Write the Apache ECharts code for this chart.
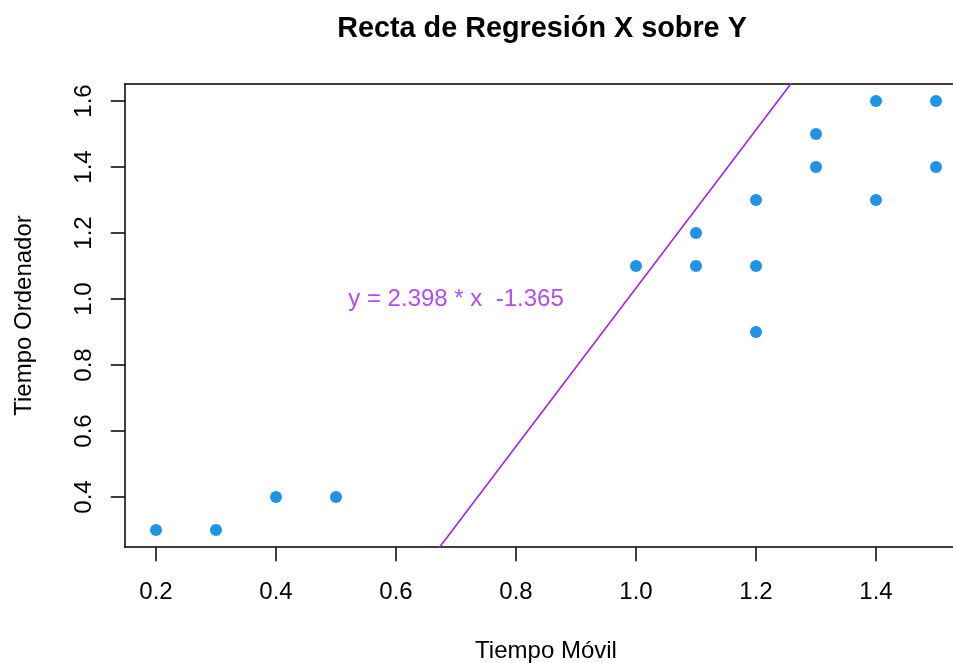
<!DOCTYPE html>
<html>
<head>
<meta charset="utf-8">
<title>Recta de Regresión X sobre Y</title>
<script src="https://cdn.jsdelivr.net/npm/echarts@6/dist/echarts.min.js"></script>
<style>
  html, body { margin: 0; padding: 0; background: #fff; }
  #chart { width: 953px; height: 663px; }
</style>
</head>
<body>
<div id="chart"></div>
<script>
// Observed pairs: Tiempo Móvil (x) vs Tiempo Ordenador (y)
const tiempoMovil     = [0.2, 0.3, 0.4, 0.5, 1.0, 1.1, 1.1, 1.2, 1.2, 1.2, 1.3, 1.3, 1.4, 1.4, 1.5, 1.5];
const tiempoOrdenador = [0.3, 0.3, 0.4, 0.4, 1.1, 1.2, 1.1, 1.3, 1.1, 0.9, 1.5, 1.4, 1.6, 1.3, 1.6, 1.4];

// Fitted line coefficients
const pendiente = 2.398;
const intercepto = -1.365;

// Tick positions
const xTicks = [0.2, 0.4, 0.6, 0.8, 1.0, 1.2, 1.4];
const yTicks = [0.4, 0.6, 0.8, 1.0, 1.2, 1.4, 1.6];

// Axis limits padded by 4% of the data range on each side
function paddedRange(arr) {
  const lo = Math.min(...arr), hi = Math.max(...arr);
  const pad = (hi - lo) * 0.04;
  return [lo - pad, hi + pad];
}
const [xMin, xMax] = paddedRange(tiempoMovil);
const [yMin, yMax] = paddedRange(tiempoOrdenador);

const puntos = tiempoMovil.map((x, i) => [x, tiempoOrdenador[i]]);
const recta = [xMin, xMax].map(x => [x, pendiente * x + intercepto]);
const etiqueta = 'y = ' + pendiente.toFixed(3) + ' * x  ' + intercepto.toFixed(3);

const FONT = '"Liberation Sans", Arial, sans-serif';
const PURPLE = '#a020f0';
const frameLine = { show: true, lineStyle: { color: '#000', width: 1.5 } };

const chart = echarts.init(document.getElementById('chart'), null, { renderer: 'canvas' });
chart.setOption({
  animation: false,
  backgroundColor: '#ffffff',
  title: {
    text: 'Recta de Regresión X sobre Y',
    left: 537,
    top: 10,
    textAlign: 'center',
    textStyle: { fontFamily: FONT, fontSize: 28.8, fontWeight: 'bold', color: '#000' }
  },
  grid: {
    left: 124.8,
    top: 83.8,
    width: 842.4,
    height: 463.4,
    containLabel: false,
    outerBoundsMode: 'none',
    show: false
  },
  xAxis: [
    {
      type: 'value',
      position: 'bottom',
      min: xMin,
      max: xMax,
      name: 'Tiempo Móvil',
      nameLocation: 'middle',
      nameGap: 92,
      nameTextStyle: { fontFamily: FONT, fontSize: 24, color: '#000' },
      axisLine: frameLine,
      splitLine: { show: false },
      axisTick: {
        show: true,
        customValues: xTicks,
        length: 14,
        lineStyle: { color: '#000', width: 1.5 }
      },
      axisLabel: {
        show: true,
        customValues: xTicks,
        margin: 33,
        fontFamily: FONT,
        fontSize: 24,
        color: '#000',
        formatter: v => v.toFixed(1)
      }
    },
    {
      // top edge of the plot frame
      type: 'value',
      position: 'top',
      min: xMin,
      max: xMax,
      axisLine: frameLine,
      axisTick: { show: false },
      axisLabel: { show: false },
      splitLine: { show: false }
    }
  ],
  yAxis: {
    type: 'value',
    min: yMin,
    max: yMax,
    name: 'Tiempo Ordenador',
    nameLocation: 'middle',
    nameGap: 88,
    nameTextStyle: { fontFamily: FONT, fontSize: 24, color: '#000' },
    axisLine: frameLine,
    splitLine: { show: false },
    axisTick: {
      show: true,
      customValues: yTicks,
      length: 14,
      lineStyle: { color: '#000', width: 1.5 }
    },
    axisLabel: {
      show: true,
      customValues: yTicks,
      rotate: 90,
      margin: 28,
      fontFamily: FONT,
      fontSize: 24,
      color: '#000',
      formatter: v => v.toFixed(1)
    }
  },
  series: [
    {
      name: 'recta',
      type: 'line',
      data: recta,
      clip: true,
      symbol: 'none',
      lineStyle: { color: PURPLE, width: 1.6 },
      z: 2
    },
    {
      name: 'puntos',
      type: 'scatter',
      data: puntos,
      symbol: 'circle',
      symbolSize: 12,
      itemStyle: { color: '#1f93e6', opacity: 1 },
      clip: false,
      z: 3
    },
    {
      name: 'ecuacion',
      type: 'scatter',
      data: [[0.7, 1.0]],
      symbolSize: 0,
      silent: true,
      label: {
        show: true,
        position: 'inside',
        formatter: etiqueta,
        fontFamily: FONT,
        fontSize: 24,
        color: PURPLE
      },
      z: 4
    }
  ]
});
</script>
</body>
</html>
